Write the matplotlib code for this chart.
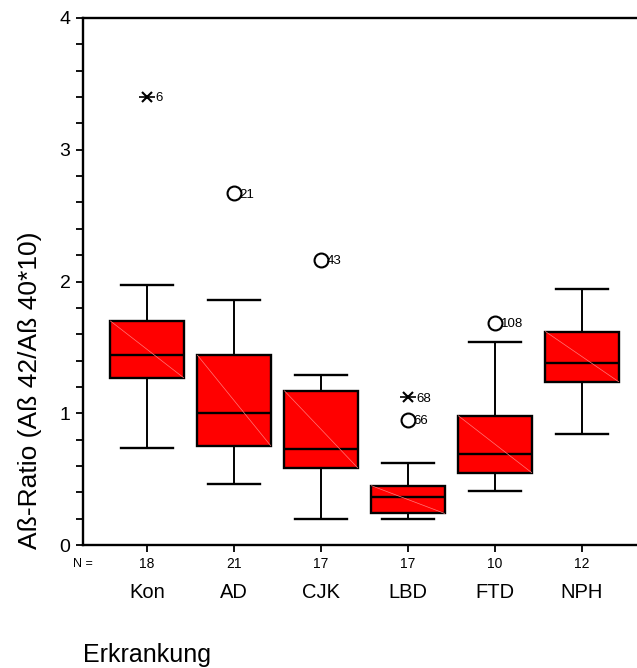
import numpy as np
import matplotlib
matplotlib.use("Agg")
from matplotlib import pyplot as plt
from matplotlib.ticker import MultipleLocator

plt.rcParams['font.family'] = ['Liberation Sans', 'DejaVu Sans']

groups = ['Kon', 'AD', 'CJK', 'LBD', 'FTD', 'NPH']
counts = [18, 21, 17, 17, 10, 12]
whislo = [0.74, 0.46, 0.20, 0.20, 0.41, 0.84]
q1 = [1.27, 0.755, 0.587, 0.24, 0.55, 1.24]
med = [1.44, 1.005, 0.73, 0.367, 0.69, 1.38]
q3 = [1.70, 1.44, 1.17, 0.45, 0.98, 1.62]
whishi = [1.97, 1.86, 1.29, 0.62, 1.54, 1.94]

# outliers (circle) and extremes (star): group index, value, case label
out_grp = [1, 2, 3, 4]
out_val = [2.67, 2.165, 0.95, 1.685]
out_lab = ['21', '43', '66', '108']
ext_grp = [0, 3]
ext_val = [3.40, 1.12]
ext_lab = ['6', '68']

pos = np.arange(1, len(groups) + 1)
box_w = 0.84

fig = plt.figure(figsize=(6.37, 6.68), dpi=100)
ax = fig.add_axes([83 / 637, 123 / 668, 554 / 637, 527 / 668])

stats = []
for i, g in enumerate(groups):
    stats.append(dict(label=g, whislo=whislo[i], q1=q1[i], med=med[i],
                      q3=q3[i], whishi=whishi[i], fliers=[]))

ax.bxp(stats, positions=pos, widths=box_w, capwidths=0.59, patch_artist=True,
       showfliers=False,
       boxprops=dict(facecolor='#ff0000', edgecolor='black', linewidth=1.7),
       medianprops=dict(color='black', linewidth=1.7),
       whiskerprops=dict(color='black', linewidth=1.4),
       capprops=dict(color='black', linewidth=1.7))

# faint diagonal inside boxes
for i in range(len(groups)):
    ax.plot([pos[i] - box_w / 2, pos[i] + box_w / 2], [q3[i], q1[i]],
            color='#ff7a7a', lw=0.5, zorder=3)

for g, v, lab in zip(out_grp, out_val, out_lab):
    ax.plot(pos[g], v, 'o', ms=10, mfc='none', mec='black', mew=1.5)
    ax.annotate(lab, (pos[g], v), xytext=(4, -1), textcoords='offset points',
                va='center', ha='left', fontsize=9.5)
for g, v, lab in zip(ext_grp, ext_val, ext_lab):
    ax.plot(pos[g], v, 'x', ms=7, mec='black', mew=1.5)
    ax.plot(pos[g], v, '_', ms=12, mec='black', mew=1.2)
    ax.annotate(lab, (pos[g], v), xytext=(6, -1), textcoords='offset points',
                va='center', ha='left', fontsize=9.5)

ax.set_xlim(1 - 64 / 87, 6 + 55 / 87)
ax.set_ylim(0, 4)
ax.yaxis.set_minor_locator(MultipleLocator(0.2))
ax.set_yticks([0, 1, 2, 3, 4])
ax.set_yticklabels(['0', '1', '2', '3', '4'])
ax.tick_params(axis='y', which='both', direction='out', length=5, width=1.3,
               labelsize=14, pad=4)
ax.set_xticks(pos)
ax.set_xticklabels([])
ax.tick_params(axis='x', direction='out', length=5, width=1.3)

ax.spines['right'].set_visible(False)
for s in ['left', 'bottom', 'top']:
    ax.spines[s].set_linewidth(1.7)

for i in range(len(groups)):
    ax.annotate(str(counts[i]), (pos[i], 0), xycoords=('data', 'axes fraction'),
                xytext=(0, -13.5), textcoords='offset points',
                ha='center', va='center', fontsize=10)
    ax.annotate(groups[i], (pos[i], 0), xycoords=('data', 'axes fraction'),
                xytext=(0, -34.5), textcoords='offset points',
                ha='center', va='center', fontsize=14.5)
ax.annotate('N =', (0, 0), xycoords='axes fraction', xytext=(0, -13.5),
            textcoords='offset points', ha='center', va='center', fontsize=9)

fig.text(30 / 637, 1 - 549 / 668, 'Aß-Ratio (Aß 42/Aß 40*10)', fontsize=19,
         rotation=90, ha='center', va='bottom')
fig.text(83 / 637, 1 - 655 / 668, 'Erkrankung', fontsize=18,
         ha='left', va='center')

fig.savefig('out.png', dpi=100)
